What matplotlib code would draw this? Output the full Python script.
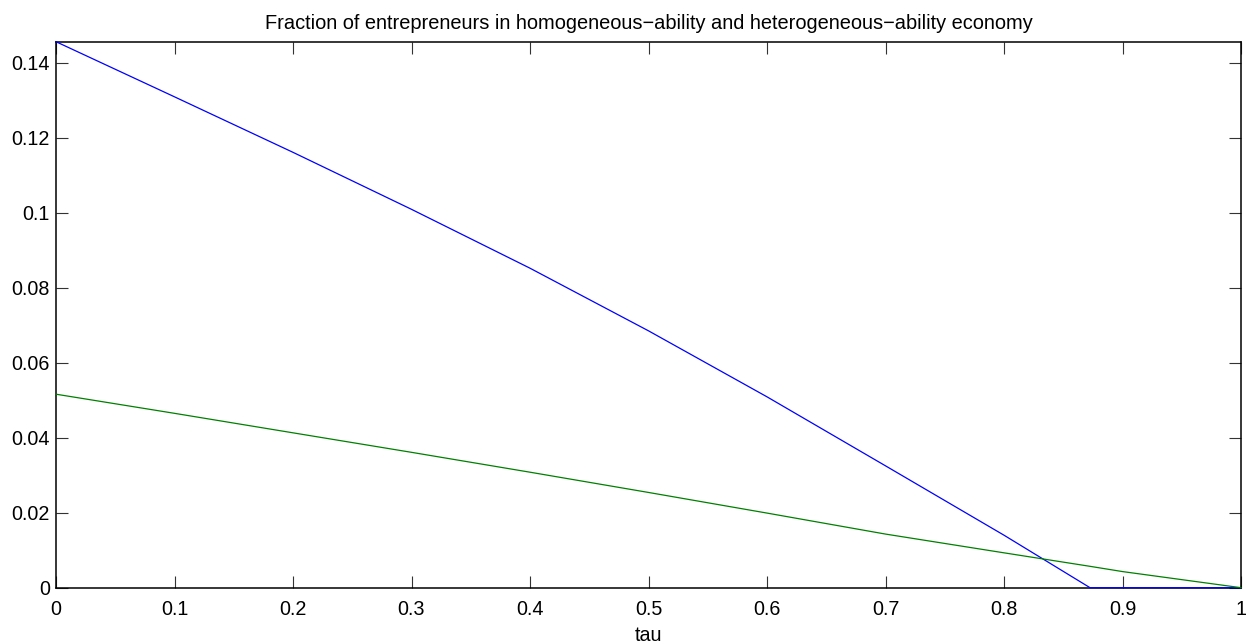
import matplotlib
matplotlib.use("Agg")
import matplotlib.pyplot as plt
import numpy as np

plt.rcParams['font.family'] = ['Liberation Sans', 'DejaVu Sans']

tau = [0.0, 0.1, 0.2, 0.3, 0.4, 0.5, 0.6, 0.7, 0.8, 0.8726, 0.9, 1.0]
homogeneous = [0.1456, 0.1309, 0.1161, 0.1009, 0.0852, 0.0685, 0.0509, 0.0325, 0.0140, 0.0, 0.0, 0.0]
heterogeneous = [0.0516, 0.0465, 0.0413, 0.0361, 0.0308, 0.0254, 0.0199, 0.0143, 0.0093, 0.0057, 0.0043, 0.0]

xticks = [0, 0.1, 0.2, 0.3, 0.4, 0.5, 0.6, 0.7, 0.8, 0.9, 1]
xticklabels = ['0', '0.1', '0.2', '0.3', '0.4', '0.5', '0.6', '0.7', '0.8', '0.9', '1']
yticks = [0, 0.02, 0.04, 0.06, 0.08, 0.1, 0.12, 0.14]
yticklabels = ['0', '0.02', '0.04', '0.06', '0.08', '0.1', '0.12', '0.14']

title = 'Fraction of entrepreneurs in homogeneous\u2212ability and heterogeneous\u2212ability economy'
xlabel = 'tau'

fig = plt.figure(figsize=(12.59, 6.44), dpi=100)
ax = fig.add_axes([56 / 1259, 1 - 587.7 / 644, (1241 - 56) / 1259, (587.7 - 41.7) / 644])

ax.plot(tau, homogeneous, color=(0, 0, 1), lw=0.9, clip_on=False, zorder=3)
ax.plot(tau, heterogeneous, color=(0, 0.5, 0), lw=0.9, clip_on=False, zorder=4)

ax.set_xlim(0, 1)
ax.set_ylim(0, max(homogeneous))
ax.set_xticks(xticks)
ax.set_xticklabels(xticklabels)
ax.set_yticks(yticks)
ax.set_yticklabels(yticklabels)
ax.tick_params(direction='in', length=8.5, width=0.8, color='#333333', labelsize=14.2,
               top=True, right=True)
ax.tick_params(axis='x', pad=9)
ax.tick_params(axis='y', pad=4.5)
for s in ax.spines.values():
    s.set_linewidth(1.1)
    s.set_zorder(2)
ax.set_title(title, fontsize=14.4, pad=9)
ax.set_xlabel(xlabel, fontsize=14.2, labelpad=5)

fig.savefig('out.png', dpi=100)
